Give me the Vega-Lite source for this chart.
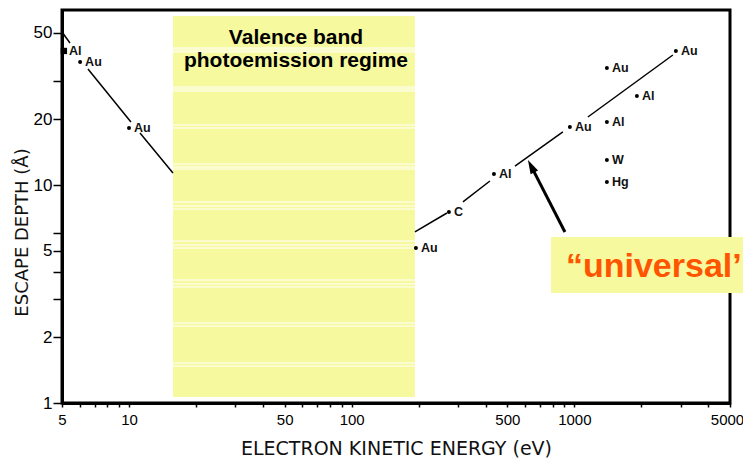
{
  "$schema": "https://vega.github.io/schema/vega-lite/v6.json",
  "width": 668,
  "height": 393,
  "autosize": {"type": "none"},
  "padding": {"left": 62, "top": 10, "right": 13, "bottom": 58},
  "background": "white",
  "config": {"view": {"stroke": "black", "strokeWidth": 3}, "font": "Liberation Sans"},
  "datasets": {
    "points": [
      {"E": 5.1, "d": 41.2, "label": "Al", "m": "sq"},
      {"E": 6.03, "d": 36.7, "label": "Au", "m": "dot"},
      {"E": 10.0, "d": 18.26, "label": "Au", "m": "dot"},
      {"E": 194.3, "d": 5.14, "label": "Au", "m": "dot"},
      {"E": 273.3, "d": 7.52, "label": "C", "m": "dot"},
      {"E": 435.3, "d": 11.23, "label": "Al", "m": "dot"},
      {"E": 954.7, "d": 18.45, "label": "Au", "m": "dot"},
      {"E": 2857, "d": 41.2, "label": "Au", "m": "dot"},
      {"E": 1400, "d": 34.4, "label": "Au", "m": "dot"},
      {"E": 1909, "d": 25.6, "label": "Al", "m": "dot"},
      {"E": 1400, "d": 19.45, "label": "Al", "m": "dot"},
      {"E": 1400, "d": 13.02, "label": "W", "m": "dot"},
      {"E": 1400, "d": 10.32, "label": "Hg", "m": "dot"}
    ],
    "curve": [
      {"seg": "A", "E": 5, "d": 50.3}, {"seg": "A", "E": 5.43, "d": 44.8},
      {"seg": "B", "E": 6.54, "d": 34.05}, {"seg": "B", "E": 10.2, "d": 19.45},
      {"seg": "C", "E": 11.2, "d": 17.32}, {"seg": "C", "E": 15.75, "d": 11.35},
      {"seg": "D", "E": 192.3, "d": 6.09}, {"seg": "D", "E": 267.8, "d": 7.44},
      {"seg": "E", "E": 316, "d": 8.36}, {"seg": "E", "E": 417.6, "d": 10.43},
      {"seg": "F", "E": 541, "d": 12.22}, {"seg": "F", "E": 888, "d": 17.51},
      {"seg": "G", "E": 1150, "d": 20.51}, {"seg": "G", "E": 2770, "d": 39.48}
    ],
    "stripes": [
      {"E": 15.75, "E2": 192.3, "d": 42.5}, {"E": 15.75, "E2": 192.3, "d": 41.63}, {"E": 15.75, "E2": 192.3, "d": 40.75},
      {"E": 15.75, "E2": 192.3, "d": 28.15}, {"E": 15.75, "E2": 192.3, "d": 27.56}, {"E": 15.75, "E2": 192.3, "d": 26.99},
      {"E": 15.75, "E2": 192.3, "d": 18.85}, {"E": 15.75, "E2": 192.3, "d": 18.26},
      {"E": 15.75, "E2": 192.3, "d": 12.48}, {"E": 15.75, "E2": 192.3, "d": 12.09}, {"E": 15.75, "E2": 192.3, "d": 11.84},
      {"E": 15.75, "E2": 192.3, "d": 8.36}, {"E": 15.75, "E2": 192.3, "d": 8.01}, {"E": 15.75, "E2": 192.3, "d": 7.76},
      {"E": 15.75, "E2": 192.3, "d": 5.535}, {"E": 15.75, "E2": 192.3, "d": 5.306}, {"E": 15.75, "E2": 192.3, "d": 5.14},
      {"E": 15.75, "E2": 192.3, "d": 3.666}, {"E": 15.75, "E2": 192.3, "d": 3.515}, {"E": 15.75, "E2": 192.3, "d": 3.405},
      {"E": 15.75, "E2": 192.3, "d": 2.328}, {"E": 15.75, "E2": 192.3, "d": 2.255},
      {"E": 15.75, "E2": 192.3, "d": 1.526}, {"E": 15.75, "E2": 192.3, "d": 1.478}
    ],
    "arrow": [{"E": 907, "d": 6.09}, {"E": 639.6, "d": 12.2}]
  },
  "encoding": {
    "x": {
      "field": "E", "type": "quantitative",
      "scale": {"type": "log", "domain": [5, 5000], "nice": false},
      "axis": {
        "values": [5, 6, 7, 8, 9, 10, 20, 30, 40, 50, 60, 70, 80, 90, 100, 200, 300, 400, 500, 600, 700, 800, 900, 1000, 2000, 3000, 4000, 5000],
        "labelExpr": "indexof([5, 10, 50, 100, 500, 1000, 5000], datum.value) >= 0 ? datum.value : ''",
        "grid": false, "domainColor": "black", "domainWidth": 3,
        "tickColor": "black", "tickWidth": 1.5, "tickSize": 4,
        "labelFont": "Liberation Sans", "labelFontSize": 15, "labelPadding": 5,
        "labelOffset": {"condition": {"test": "datum.value == 5000", "value": -3}, "value": 0},
        "labelColor": "black", "labelFlush": false, "labelOverlap": false,
        "title": "ELECTRON KINETIC ENERGY (eV)", "titleFont": "DejaVu Sans",
        "titleFontSize": 19, "titleFontWeight": "normal", "titlePadding": 12, "titleColor": "#111"
      }
    },
    "y": {
      "field": "d", "type": "quantitative",
      "scale": {"type": "log", "domain": [1, 63.5], "nice": false},
      "axis": {
        "values": [1, 2, 3, 4, 5, 6, 10, 20, 30, 50],
        "labelExpr": "indexof([1, 2, 5, 10, 20, 50], datum.value) >= 0 ? datum.value : ''",
        "grid": false, "domainColor": "black", "domainWidth": 3,
        "tickColor": "black", "tickWidth": 1.5, "tickSize": 9,
        "labelFont": "Liberation Sans", "labelFontSize": 17, "labelPadding": 1,
        "labelColor": "black", "labelFlush": false, "labelOverlap": false,
        "title": "ESCAPE DEPTH (Å)", "titleFont": "DejaVu Sans",
        "titleFontSize": 18, "titleFontWeight": "normal", "titleColor": "#111",
        "titleX": -35, "titleY": 222, "titleBaseline": "alphabetic"
      }
    }
  },
  "layer": [
    {
      "data": {"values": [{"E": 15.75, "E2": 192.3, "d": 1.065, "d2": 59.6}]},
      "mark": {"type": "rect", "color": "#F6F99E"},
      "encoding": {"x2": {"field": "E2"}, "y2": {"field": "d2"}}
    },
    {
      "data": {"name": "stripes"},
      "mark": {"type": "rule", "color": "white", "strokeWidth": 1},
      "encoding": {"x2": {"field": "E2"}}
    },
    {
      "data": {"name": "curve"},
      "mark": {"type": "line", "color": "black", "strokeWidth": 1.5},
      "encoding": {"detail": {"field": "seg"}, "order": {"field": "E"}}
    },
    {
      "data": {"name": "points"},
      "mark": {"type": "point", "filled": true, "color": "black", "opacity": 1},
      "encoding": {
        "shape": {"field": "m", "type": "nominal", "scale": {"domain": ["dot", "sq"], "range": ["circle", "square"]}, "legend": null},
        "size": {"field": "m", "type": "nominal", "scale": {"domain": ["dot", "sq"], "range": [16, 40]}, "legend": null}
      }
    },
    {
      "data": {"name": "points"},
      "mark": {"type": "text", "align": "left", "baseline": "middle", "dx": 5, "fontSize": 12.5, "fontWeight": "bold", "color": "#111"},
      "encoding": {"text": {"field": "label"}}
    },
    {
      "data": {"values": [{"E": 56.2, "d": 44.4, "t": "Valence band\nphotoemission regime"}]},
      "mark": {"type": "text", "align": "center", "baseline": "alphabetic", "fontSize": 21, "fontWeight": "bold", "lineBreak": "\n", "lineHeight": 23, "color": "black"},
      "encoding": {"text": {"field": "t"}}
    },
    {
      "data": {"name": "arrow"},
      "mark": {"type": "line", "color": "black", "strokeWidth": 3},
      "encoding": {}
    },
    {
      "data": {"values": [{"E": 639.6, "d": 12.2}]},
      "mark": {"type": "point", "shape": "M0,-1L0.6,1L-0.6,1Z", "filled": true, "color": "black", "opacity": 1, "size": 196, "angle": -27},
      "encoding": {}
    },
    {
      "data": {"values": [{"E": 784.6, "E2": 9000, "d": 3.196, "d2": 5.774}]},
      "mark": {"type": "rect", "color": "#F6F99E"},
      "encoding": {"x2": {"field": "E2"}, "y2": {"field": "d2"}}
    },
    {
      "data": {"values": [{"E": 916.6, "d": 3.78, "t": "“universal’"}]},
      "mark": {"type": "text", "align": "left", "baseline": "alphabetic", "fontSize": 34, "fontWeight": "bold", "color": "#FF5500"},
      "encoding": {"text": {"field": "t"}}
    }
  ]
}
